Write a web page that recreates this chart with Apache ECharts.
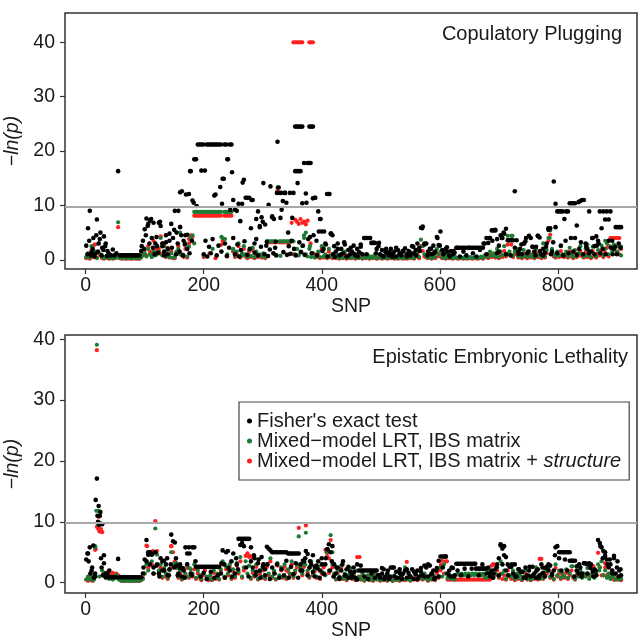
<!DOCTYPE html>
<html>
<head>
<meta charset="utf-8">
<script src="https://cdn.jsdelivr.net/npm/echarts@6/dist/echarts.min.js"></script>
<style>html,body{margin:0;padding:0;background:#fff}#c{width:640px;height:640px}</style>
</head>
<body>
<div id="c"></div>
<script>
// SNP index of the first value in each array and spacing between values
const snpStart = 1;
const snpStep = 3;
const threshold = 9.8;            // -ln(0.05/900), Bonferroni line
const xTicks = [0, 200, 400, 600, 800];
const yTicks = [0, 10, 20, 30, 40];
const panelTitles = ['Copulatory Plugging', 'Epistatic Embryonic Lethality'];
const seriesNames = ["Fisher's exact test", 'Mixed\u2212model LRT, IBS matrix', 'Mixed\u2212model LRT, IBS matrix + structure'];

// ---------- Copulatory Plugging ----------
const topFisher = [
 2.6,5.8,9.0,1.4,4.0,1.1,7.4,3.0,5.0,2.2,
 4.3,3.0,1.6,0.8,0.8,1.9,0.8,1.2,16.3,0.8,
 0.8,0.8,0.8,0.8,0.8,0.8,0.8,0.8,0.8,0.8,
 0.8,1.6,3.5,5.6,7.6,6.6,7.2,4.0,6.8,3.0,
 2.5,6.8,6.2,3.0,1.5,4.5,2.0,3.5,6.6,4.0,
 9.0,5.0,9.0,6.0,12.6,3.5,4.5,2.0,12.1,16.3,
 10.9,18.5,18.5,21.2,21.2,21.2,21.2,16.4,21.2,21.2,
 21.2,21.2,21.2,21.2,21.2,21.2,21.2,14.9,21.2,21.2,
 18.5,21.2,21.2,11.0,9.2,9.0,10.3,7.1,10.3,14.7,
 11.4,11.4,11.4,5.8,11.0,3.0,7.5,8.9,6.2,7.8,
 14.1,6.5,3.3,10.1,13.5,7.8,7.5,3.3,21.7,12.3,
 12.3,10.8,12.3,10.5,5.0,12.3,3.5,12.3,24.5,24.5,
 24.5,24.5,24.5,17.8,12.2,17.8,24.5,24.5,24.5,11.4,
 3.5,8.9,7.5,5.2,2.0,3.0,12.1,12.1,4.8,4.5,
 2.5,1.5,3.0,0.8,2.0,1.2,2.8,0.6,1.8,1.0,
 1.5,2.6,0.8,2.0,1.4,2.8,1.0,4.0,4.0,4.0,
 4.0,3.1,3.1,3.1,2.0,2.5,1.0,1.8,0.6,1.4,
 1.2,0.8,2.0,1.0,1.5,0.6,1.8,1.2,0.8,1.5,
 2.1,1.0,1.6,0.8,2.5,1.2,1.8,3.0,2.2,5.9,
 6.1,2.8,3.0,1.5,2.0,1.0,2.6,1.5,4.2,2.7,
 5.2,1.8,1.2,2.0,1.5,0.8,1.6,1.0,1.3,2.2,
 2.2,2.2,2.2,2.2,2.2,2.2,2.2,2.2,2.2,2.2,
 2.2,2.2,2.2,2.2,2.2,3.0,4.0,3.1,4.0,5.4,
 5.4,5.4,3.8,1.5,4.5,4.0,4.8,5.7,3.6,3.6,
 3.6,3.6,12.6,3.6,1.5,2.0,1.0,3.0,3.4,1.2,
 4.4,4.0,2.4,1.5,2.4,4.4,4.1,1.0,2.0,1.3,
 3.0,5.5,5.8,1.5,14.4,6.0,8.9,8.9,8.9,8.9,
 7.5,8.9,8.9,10.4,10.4,10.4,10.4,6.3,10.6,10.8,
 11.0,11.0,3.0,2.0,8.9,1.5,4.0,2.5,4.3,3.5,
 8.9,5.8,8.9,7.4,8.9,7.4,8.9,3.5,2.0,6.0,
 6.0,6.0,6.0
];
const topIBS = [
 0.5,1.2,0.4,2.5,0.8,1.5,0.3,3.0,1.0,0.6,
 0.3,0.6,0.4,0.3,0.5,0.3,0.4,0.6,6.9,0.4,
 0.3,0.4,0.3,0.5,0.3,0.4,0.3,0.5,0.3,0.4,
 0.3,0.5,0.8,1.2,0.6,2.0,1.0,0.5,1.5,0.8,
 1.0,1.5,4.0,0.8,2.5,0.6,1.8,0.5,1.2,0.4,
 0.5,1.5,2.0,5.0,1.0,0.8,3.0,0.6,2.4,4.0,
 4.5,8.8,8.8,8.8,8.8,8.8,8.8,8.8,8.8,8.8,
 8.8,8.8,8.8,8.8,8.8,8.8,8.8,4.0,8.8,8.8,
 8.8,8.8,8.8,2.0,0.8,1.5,3.0,0.6,1.2,2.5,
 1.0,0.5,1.8,0.7,2.2,0.5,1.5,0.8,1.0,0.6,
 1.2,0.5,3.4,3.4,3.4,3.4,3.4,3.4,13.3,3.4,
 3.4,3.4,3.4,3.4,3.4,3.4,3.4,3.4,1.0,2.0,
 0.8,1.5,2.5,4.5,1.0,0.6,2.0,0.5,1.2,0.4,
 0.8,1.5,0.5,2.5,0.6,1.0,0.4,2.0,0.8,0.5,
 1.2,0.5,0.8,0.3,1.0,0.4,1.5,0.3,0.6,0.4,
 0.5,1.0,0.3,0.8,0.4,1.2,0.3,0.6,0.4,0.8,
 0.3,0.6,0.4,1.0,0.3,0.5,0.8,0.3,0.4,0.6,
 0.3,0.5,0.4,0.8,0.3,0.6,0.3,0.5,0.4,0.3,
 0.6,0.3,0.5,0.4,1.0,0.3,0.8,1.5,0.5,3.7,
 2.5,1.0,0.6,0.4,1.2,0.3,0.8,0.5,2.0,1.0,
 1.5,0.4,0.6,0.3,0.8,0.4,0.5,0.3,0.6,0.4,
 0.3,0.5,0.4,0.3,0.6,0.3,0.4,0.5,0.3,0.4,
 0.5,0.3,0.4,0.6,0.3,0.8,1.0,0.5,1.5,0.8,
 1.2,0.6,2.0,0.5,1.5,0.8,2.5,1.0,4.4,1.5,
 4.4,0.8,1.5,2.0,0.6,1.2,0.5,1.8,0.8,0.5,
 1.5,0.6,1.0,0.4,2.0,0.8,1.2,0.5,3.0,0.6,
 1.8,4.0,5.4,2.0,1.0,0.6,1.5,0.8,2.5,1.0,
 0.8,1.5,0.6,2.2,1.0,0.5,1.8,0.7,1.2,2.5,
 1.0,0.6,2.0,0.8,1.5,0.5,2.4,1.0,0.6,1.8,
 1.2,2.6,0.8,2.0,3.0,1.0,2.4,1.5,2.8,2.4,
 1.5,2.4,0.8
];
const topIBSStructure = [
 0.3,0.8,0.2,1.8,0.5,2.8,0.4,1.2,0.8,0.3,
 0.2,0.5,0.3,0.2,0.3,0.2,0.3,0.4,6.0,0.3,
 0.2,0.3,0.2,0.2,0.3,0.2,0.2,0.3,0.2,0.2,
 0.2,0.4,1.0,1.8,0.8,2.5,1.5,0.6,3.5,1.0,
 1.5,2.0,4.3,1.0,3.0,0.5,2.2,0.4,1.5,0.3,
 0.3,1.0,2.5,6.1,0.8,0.5,2.0,0.4,3.0,4.5,
 4.2,8.1,8.1,8.1,8.1,8.1,8.1,8.1,8.1,8.1,
 8.1,8.1,8.1,8.1,8.1,8.1,8.1,3.5,8.1,8.1,
 8.1,8.1,8.1,1.5,0.5,1.0,2.5,0.4,0.8,2.0,
 0.6,0.3,1.5,0.5,1.8,0.3,1.0,0.5,0.8,0.4,
 0.8,0.3,3.2,3.2,3.2,3.2,3.2,3.2,12.7,3.2,
 3.2,3.2,3.2,3.2,3.2,3.2,6.8,40,40,40,
 40,40,40,7.0,6.5,7.2,40,40,40,1.0,
 0.5,1.2,0.3,2.0,0.4,0.8,0.3,1.5,0.5,0.3,
 0.8,0.3,0.5,0.2,0.6,0.3,1.0,0.2,0.4,0.3,
 0.3,0.6,0.2,0.5,0.3,0.8,0.2,0.4,0.3,0.5,
 0.2,0.4,0.3,0.6,0.2,0.3,0.5,0.2,0.3,0.4,
 0.2,0.3,0.3,0.5,0.2,0.4,0.2,0.3,0.3,0.2,
 0.4,0.2,0.3,0.3,0.6,0.2,0.5,1.0,0.3,2.5,
 1.6,0.6,0.4,0.3,0.8,0.2,0.5,0.3,1.2,0.6,
 1.0,0.3,0.4,0.2,0.5,0.3,0.3,0.2,0.4,0.3,
 0.2,0.3,0.3,0.2,0.4,0.2,0.3,0.3,0.2,0.3,
 0.3,0.2,0.3,0.4,0.2,0.5,0.6,0.3,1.0,0.5,
 0.8,0.4,1.3,0.3,1.0,0.5,1.6,0.6,2.8,1.0,
 2.8,0.5,1.0,1.3,0.4,0.8,0.3,1.2,0.5,0.3,
 1.0,0.4,0.6,0.3,1.3,0.5,0.8,0.3,2.0,0.4,
 1.2,3.5,4.6,1.3,0.6,0.4,1.0,0.5,1.6,0.6,
 0.5,1.0,0.4,1.5,0.6,0.3,1.2,0.5,0.8,1.6,
 0.6,0.4,1.3,0.5,1.0,0.3,1.6,0.6,0.4,1.2,
 0.8,1.8,0.5,1.3,2.2,0.6,4.0,4.0,4.0,4.0,
 4.0,4.0,2.0
];
// additional SNPs [snp, -ln(p)]
const topFisherExtra = [[3,1.0],[6,3.5],[9,0.8],[12,2.0],[15,0.6],[18,4.5],[21,1.5],[24,3.8],[27,0.8],[30,1.8],[33,2.5],[36,0.7],[39,1.2],[95,2.5],[99,2.0],[102,4.5],[105,6.2],[108,3.0],[111,7.5],[114,2.2],[117,1.0],[120,4.2],[123,1.3],[126,7.0],[130,2.5],[133,0.8],[136,3.2],[139,1.0],[142,4.8],[146,2.2],[150,5.5],[153,1.0],[156,3.0],[159,1.5],[162,4.5],[165,0.8],[168,2.8],[172,4.6],[176,1.2],[180,3.5],
 [177,16.3],[160,12.4],[170,12.0],[183,10.5],[188,9.9],[186,18.5],[196,16.4],[200,1.0],[203,3.5],[206,0.6],[209,2.4],[212,1.2],[215,3.8],[218,11.8],[220,12.0],[222,0.8],[225,2.6],[228,13.4],[230,1.5],[231,10.3],[234,14.9],[236,3.0],[239,0.7],[240,18.5],[243,2.2],[245,9.2],[248,16.1],[250,4.0],[253,1.0],[257,2.8],[260,0.6],[263,1.8],[266,14.2],[269,3.4],[274,0.9],[278,2.0],[281,11.0],[286,1.3],[289,3.8],[292,0.8],[295,6.0],[297,2.4],[300,7.0],[303,1.0],[306,2.6],[309,0.7],[312,1.9],[316,8.0],[318,1.2],[321,2.2],[323,0.8],[324,12.3],[327,13.3],[330,7.7],[332,9.2],[335,1.4],[338,12.3],[341,0.9],[344,2.5],[347,1.1],[350,7.7],[353,2.0],[355,16.3],[356,0.8],[358,16.3],[359,14.1],[361,16.3],[362,3.2],[364,16.3],[365,1.4],[367,10.4],[368,2.6],[371,0.9],[374,10.5],[377,3.8],[378,17.8],[380,4.2],[381,17.8],[383,1.2],[385,11.3],[386,4.5],[389,11.4],[392,0.8],[395,5.2],[398,7.5],[401,1.6],[404,5.2],[407,2.8],[410,0.6],[413,12.1],[416,4.8],[419,1.0],
 [422,0.5],[427,2.0],[433,1.0],[438,3.2],[444,0.7],[449,2.2],[455,1.1],[461,0.6],[466,2.4],[472,4.0],[476,1.0],[482,4.0],[487,3.1],[492,1.2],[497,3.1],[503,0.7],[509,2.0],[515,1.4],[520,0.5],[526,2.2],[532,1.0],[537,1.6],[544,0.6],[549,1.4],[555,2.4],[560,0.8],[566,1.6],[570,5.8],[574,3.0],[579,0.8],[585,2.0],[590,1.2],[596,4.0],[600,2.6],[606,1.0],[612,2.3],[617,0.6],[623,1.6],[629,2.2],[634,0.6],[640,1.5],[645,0.8],[650,2.2],[656,1.2],[662,0.6],[668,1.8],[674,3.0],[679,1.0],[684,4.0],[689,3.5],[694,5.5],[697,1.2],[700,2.6],[705,4.0],[708,5.0],[712,1.0],[716,3.6],[720,0.8],[727,2.2],[733,1.0],[738,2.8],[743,3.0],[746,4.0],[750,1.5],[757,2.4],[762,0.8],[766,4.4],[770,1.6],[775,0.8],[780,2.4],[784,5.8],[788,1.0],[792,3.2],[796,10.3],[799,1.2],[805,2.6],[809,0.8],[813,3.5],[818,1.2],[822,4.0],[826,1.5],[829,4.0],[832,0.9],[836,2.0],[839,3.2],[843,1.0],[848,2.4],[853,1.2],[858,4.0],[862,1.0],[866,2.6],[869,3.0],[872,1.2],[876,2.0],[881,1.0],[886,3.5],[890,2.2],[893,1.0],[897,2.4],[900,1.0],[903,3.0],[906,2.2]];
const topIBSExtra = [[56,0.4],[160,1.0],[184,3.0],[200,0.8],[215,2.0],[230,4.2],[236,3.8],[240,1.0],[250,1.8],[265,0.8],[320,1.0],[330,0.7],[345,1.0],[370,4.0],[373,5.0],[380,2.5],[786,4.0],[723,4.4],[715,1.0],[850,2.8],[880,3.5],[895,2.0],[907,2.4]];
const topIBSStructureExtra = [[15,2.8],[112,1.0],[120,2.0],[128,1.0],[130,3.0],[159,1.5],[175,3.8],[179,4.0],[200,0.5],[210,1.2],[220,0.3],[230,2.8],[240,0.6],[250,1.5],[352,1.0],[355,7.4],[358,7.0],[361,6.6],[364,7.5],[367,6.8],[381,3.0],[385,1.2],[886,2.5],[893,2.0],[900,1.5],[904,1.0]];

// ---------- Epistatic Embryonic Lethality ----------
const botFisher = [
 3.8,4.8,5.8,2.0,6.1,1.0,17.1,12.6,11.6,9.6,
 4.5,1.5,0.9,0.9,0.9,0.9,0.9,0.9,3.9,0.9,
 0.9,0.9,0.9,0.9,0.9,0.9,0.9,0.9,0.9,0.9,
 0.9,0.9,1.5,3.8,7.0,4.6,5.0,4.8,2.5,5.0,
 3.0,1.5,4.0,2.0,3.6,3.0,1.2,2.2,7.9,6.8,
 6.6,2.8,1.5,2.4,1.0,2.0,5.8,4.8,5.8,1.5,
 5.8,5.8,2.6,2.6,2.6,2.6,2.6,2.6,2.6,2.6,
 2.6,2.6,2.6,2.6,2.6,2.6,1.5,5.3,3.0,5.0,
 5.2,2.0,3.5,4.8,1.5,3.0,7.2,7.2,7.2,7.2,
 7.2,7.2,7.2,5.8,2.5,4.0,1.8,3.2,2.0,4.2,
 3.0,2.2,5.9,5.6,5.3,5.0,5.0,5.0,5.0,5.0,
 5.0,5.0,5.0,5.0,4.8,4.8,4.8,4.8,4.8,4.8,
 4.8,3.0,2.0,3.5,5.2,4.7,2.5,3.0,1.8,2.6,
 2.8,3.5,2.0,4.0,1.5,3.0,5.5,6.3,5.0,6.0,
 3.0,1.5,2.5,0.8,2.0,3.5,1.2,2.2,0.8,1.8,
 1.2,2.5,0.8,3.0,2.0,2.0,2.0,2.0,2.0,2.0,
 2.0,2.0,2.0,2.0,2.0,1.2,0.8,1.5,2.2,1.0,
 1.5,0.6,2.5,2.5,1.0,1.8,0.8,2.2,1.2,1.5,
 2.0,0.8,1.6,1.0,2.2,0.6,1.4,2.0,1.0,1.8,
 1.2,2.8,2.5,1.0,2.8,1.5,2.0,0.8,2.4,3.6,
 4.3,4.3,4.3,4.3,1.5,2.0,1.0,2.4,1.2,3.1,
 3.1,3.1,3.1,3.1,3.1,3.1,3.1,3.1,3.1,3.1,
 2.3,2.3,2.3,2.3,2.3,2.3,1.5,2.5,1.0,2.0,
 1.5,2.2,3.0,1.2,6.1,5.6,6.0,4.2,3.0,2.6,
 2.6,1.5,3.0,1.0,2.2,1.8,1.8,0.8,2.5,1.2,
 2.0,1.0,2.6,1.5,0.8,2.2,1.2,3.0,1.6,2.4,
 2.6,3.0,2.8,1.5,2.0,5.8,6.0,5.0,5.0,5.0,
 5.0,5.0,5.0,3.6,3.6,3.6,3.6,2.7,1.5,2.5,
 1.5,3.2,3.2,3.0,3.2,3.0,1.8,2.2,1.2,7.0,
 6.5,5.8,5.2,4.4,3.8,2.5,3.0,2.0,4.4,1.5,
 3.5,2.0,1.2
];
const botIBS = [
 0.5,1.0,0.6,0.4,0.8,5.8,39.1,11.8,9.8,2.0,
 1.5,0.8,1.2,0.6,1.0,0.5,0.8,1.3,0.6,0.4,
 0.3,0.4,0.3,0.5,0.3,0.4,0.3,0.5,0.3,0.4,
 0.3,0.5,0.6,1.5,3.0,2.0,4.8,3.5,1.5,8.9,
 4.6,2.0,3.0,1.0,2.4,1.5,0.8,2.0,5.0,3.0,
 2.8,3.2,1.0,2.0,0.6,2.4,1.5,3.0,1.0,2.2,
 1.5,3.0,0.8,2.0,1.2,0.6,1.5,2.5,1.0,0.6,
 1.2,0.5,2.0,0.8,1.5,0.6,2.2,3.5,1.0,2.6,
 1.5,3.0,0.8,2.2,1.0,3.2,1.8,4.2,1.0,2.5,
 3.5,1.5,2.8,0.8,2.0,1.2,3.0,0.6,1.8,1.0,
 2.4,0.8,3.0,1.5,4.0,1.0,2.0,0.6,3.2,1.2,
 2.5,1.0,3.0,0.8,2.2,1.5,3.5,1.0,2.0,3.0,
 7.6,2.5,1.5,3.0,8.2,2.0,1.0,3.5,1.5,2.2,
 1.0,2.6,0.8,1.8,3.0,1.2,5.0,2.0,7.8,3.0,
 1.5,0.6,2.0,1.0,2.8,0.8,1.5,0.5,1.2,2.4,
 0.8,1.5,0.5,2.0,1.0,0.6,1.5,0.4,0.8,1.2,
 0.5,1.0,0.4,1.5,0.6,0.8,0.4,1.2,0.5,0.8,
 0.4,1.0,0.6,0.3,1.2,0.5,0.8,0.4,1.0,0.6,
 2.5,0.5,1.0,0.4,0.8,0.6,1.5,0.5,0.8,1.2,
 0.6,1.5,0.8,0.4,1.0,0.6,1.2,0.5,2.0,1.0,
 2.5,1.0,3.0,1.5,0.8,1.2,0.6,1.0,0.5,1.3,
 1.5,1.2,1.5,1.2,1.5,1.2,1.5,1.2,1.5,1.2,
 1.5,1.2,1.5,1.2,1.5,1.0,0.8,2.0,1.5,1.0,
 0.8,1.5,2.5,1.0,3.5,1.5,2.0,0.6,1.2,2.8,
 1.0,2.0,0.6,1.5,0.8,1.2,0.5,1.0,2.0,0.6,
 1.2,0.5,1.0,0.8,2.5,1.0,0.6,1.5,0.8,1.2,
 2.0,2.5,1.0,1.5,0.6,3.0,1.2,2.0,0.8,1.5,
 1.0,2.2,0.8,1.5,2.7,1.0,0.6,1.8,1.0,2.0,
 0.8,1.5,1.0,2.4,0.6,1.2,2.0,0.8,1.5,3.0,
 2.5,3.5,1.2,2.0,0.8,1.5,0.6,1.0,1.2,0.5,
 0.8,0.5,0.6
];
const botIBSStructure = [
 0.5,0.3,0.8,0.4,1.0,5.4,38.2,10.8,8.6,8.3,
 1.6,1.3,1.7,1.4,1.2,1.6,1.3,1.5,1.2,0.5,
 0.3,0.3,0.3,0.3,0.3,0.3,0.3,0.3,0.3,0.3,
 0.3,0.4,0.8,1.5,6.1,2.5,4.8,3.0,1.5,10.1,
 5.2,1.5,2.5,0.8,2.0,1.0,0.6,2.2,6.0,2.5,
 3.5,2.5,0.8,1.5,0.5,2.0,1.2,2.4,0.8,1.5,
 1.0,2.2,0.6,1.5,0.8,0.4,1.2,2.0,0.7,0.4,
 1.0,0.4,1.6,0.6,1.2,0.5,2.0,3.0,0.8,2.2,
 1.2,2.6,0.6,1.8,0.8,2.8,1.5,3.5,0.8,2.0,
 4.4,4.8,4.2,0.6,1.6,1.0,2.6,0.5,1.4,0.8,
 2.0,0.6,2.6,1.2,3.5,0.8,1.6,0.5,2.8,1.0,
 2.0,0.8,2.6,0.6,1.8,1.2,3.0,0.8,1.6,2.5,
 9.0,2.0,1.2,2.6,9.4,1.6,0.8,3.0,1.2,1.8,
 0.8,2.2,0.6,1.5,2.5,5.4,4.4,1.6,7.0,2.5,
 1.2,0.5,1.6,0.8,2.4,0.6,1.2,0.4,1.0,2.0,
 0.6,1.2,0.4,4.2,0.8,0.5,1.2,0.3,0.6,1.0,
 0.4,0.8,0.3,1.2,0.5,0.6,0.3,1.0,0.4,0.6,
 0.3,0.8,0.5,0.3,1.0,0.4,0.6,0.3,0.8,0.5,
 0.4,3.4,0.8,0.3,0.6,0.5,1.2,0.4,0.6,1.0,
 0.5,1.2,0.6,0.3,0.8,0.5,1.0,0.4,1.6,0.8,
 2.0,3.6,1.5,3.5,0.5,0.5,0.5,0.5,0.5,0.5,
 0.5,0.5,0.5,0.5,0.5,0.5,0.5,0.5,0.5,0.5,
 0.5,0.5,0.5,0.5,0.5,0.5,0.5,0.5,0.5,2.8,
 3.0,1.2,2.0,0.8,1.5,0.6,1.2,0.5,2.0,1.0,
 0.6,1.5,0.4,1.0,0.6,1.2,0.4,0.8,1.5,0.5,
 1.0,0.4,0.8,0.6,1.8,0.5,3.9,1.2,0.6,1.0,
 1.5,2.2,0.8,1.2,0.5,2.4,1.0,1.5,0.6,1.2,
 0.8,1.6,0.6,1.2,2.0,0.8,0.5,1.2,1.2,1.2,
 1.2,1.2,1.2,1.2,1.2,1.2,2.7,1.2,1.2,4.9,
 2.5,1.2,1.2,3.2,1.2,1.5,0.8,2.0,0.5,0.6,
 0.5,0.6,0.4
];
const botFisherExtra = [[3,4.8],[5,3.5],[8,1.5],[11,2.5],[14,0.8],[16,1.5],[17,13.6],[20,11.0],[21,10.0],[23,9.5],[24,11.0],[26,4.0],[27,2.5],[29,1.2],[31,3.2],[34,0.9],[37,1.5],[40,2.0],[98,2.5],[103,3.5],[106,5.0],[109,3.0],[112,4.6],[115,1.5],[120,2.8],[125,1.0],[130,3.5],[133,2.0],[138,4.0],[141,1.2],[144,3.0],[150,2.5],[153,4.0],[156,1.2],[160,3.0],[164,2.4],[168,0.8],[172,3.0],[176,4.8],[180,1.2],[186,3.5],[195,1.0],[200,1.6],[205,0.6],[212,1.8],[218,0.8],[224,1.2],[230,3.2],[236,0.8],[242,2.4],[248,1.0],[255,4.0],[258,2.2],[262,6.2],[265,6.5],[268,6.0],[272,2.5],[276,1.0],[280,3.5],[285,4.5],[288,1.2],[293,3.8],[296,0.8],[300,2.6],[304,1.2],[308,3.0],[312,0.6],[316,2.5],[320,1.5],[324,3.0],[328,0.8],[332,2.2],[336,1.2],[340,3.6],[344,0.8],[348,2.6],[352,1.4],[356,3.2],[360,0.8],[364,2.0],[368,3.6],[372,4.0],[376,1.2],[380,3.5],[385,4.5],[388,1.0],[392,2.4],[396,0.8],[400,3.0],[404,1.4],[407,4.0],[410,5.5],[414,2.0],[417,3.5],[420,1.0],[425,2.5],[430,0.6],[435,3.0],[440,1.2],[445,2.6],[450,0.8],[455,1.8],[460,0.5],[466,2.8],[472,1.0],[478,0.6],[484,1.5],[490,0.8],[496,1.2],[502,2.4],[506,0.6],[512,2.0],[516,1.0],[522,2.5],[526,0.8],[532,1.6],[536,0.6],[544,2.2],[550,1.0],[556,1.8],[562,0.6],[568,2.4],[574,1.0],[580,3.0],[586,1.4],[590,0.6],[594,2.0],[598,1.0],[605,2.5],[610,4.3],[616,1.2],[620,2.5],[624,1.0],[630,2.0],[636,1.2],[642,2.3],[648,1.0],[654,2.3],[660,3.1],[666,1.2],[672,3.0],[678,2.3],[684,1.5],[690,0.8],[696,2.5],[700,4.0],[703,6.3],[706,3.0],[709,4.5],[712,2.0],[716,1.2],[722,3.0],[728,1.0],[734,2.2],[740,1.8],[746,0.8],[752,2.6],[758,1.2],[764,2.0],[768,0.8],[774,2.5],[778,1.0],[784,2.0],[790,1.2],[795,4.5],[802,4.0],[806,2.0],[812,3.8],[816,2.0],[820,5.0],[824,3.6],[828,1.0],[832,2.0],[836,3.0],[840,1.0],[845,3.2],[850,1.5],[855,2.4],[860,1.0],[864,2.0],[872,6.0],[876,4.0],[880,5.0],[884,3.0],[888,3.8],[892,1.5],[895,4.0],[900,2.5],[903,1.0],[906,2.2]];
const botIBSExtra = [[10,1.2],[14,0.5],[16,6.0],[18,11.8],[21,9.5],[23,1.0],[104,3.0],[117,5.0],[125,2.0],[150,3.0],[155,2.4],[176,2.4],[365,2.0],[372,3.0],[380,2.5],[418,5.0],[825,2.7],[870,2.0],[885,1.0]];
const botIBSStructureExtra = [[5,1.0],[8,0.4],[12,0.3],[15,0.8],[17,5.5],[19,9.2],[21,8.9],[23,8.5],[24,8.4],[26,8.8],[104,6.0],[110,5.0],[114,5.2],[117,4.8],[145,6.0],[148,5.0],[152,3.0],[274,4.6],[278,4.4],[282,4.2],[340,2.0],[370,3.0],[408,5.0],[412,4.0],[464,4.2],[602,3.0],[612,3.5],[690,3.0],[772,3.9],[860,2.7],[880,2.5],[895,0.5]];

const FONT = '"Liberation Sans", Arial, Helvetica, sans-serif';
const colBlack = '#000000', colGreen = '#1c7a34', colRed = '#ff1f1f';

function pts(vals, extra) {
  return vals.map((v, i) => [snpStart + snpStep * i, v]).concat(extra);
}

const grids = [
  { left: 65, right: 3, top: 13, height: 256 },
  { left: 65, right: 3, top: 335, height: 258 }
];
const yRanges = [[-1.7, 45.4], [-1.7, 40.7]];

const chart = echarts.init(document.getElementById('c'), null, { renderer: 'canvas', width: 640, height: 640 });

const xAxes = grids.map((g, i) => ({
  type: 'value', gridIndex: i, min: -35, max: 934, position: 'bottom',
  splitLine: { show: false }, axisLine: { show: false, onZero: false },
  axisTick: { show: true, inside: false, length: 5, customValues: xTicks, lineStyle: { color: '#333', width: 1.2 } },
  axisLabel: { customValues: xTicks, margin: 7, fontSize: 19.5, fontFamily: FONT, color: '#1a1a1a' },
  name: 'SNP', nameLocation: 'middle', nameGap: 25,
  nameTextStyle: { fontSize: 19.5, fontFamily: FONT, color: '#1a1a1a', verticalAlign: 'top' }
}));
const yAxes = grids.map((g, i) => ({
  type: 'value', gridIndex: i, min: yRanges[i][0], max: yRanges[i][1], position: 'left',
  splitLine: { show: false }, axisLine: { show: false, onZero: false },
  axisTick: { show: true, inside: false, length: 5, customValues: yTicks, lineStyle: { color: '#333', width: 1.2 } },
  axisLabel: { customValues: yTicks, margin: 10, fontSize: 19.5, fontFamily: FONT, color: '#1a1a1a' },
  name: '\u2212ln(p)', nameLocation: 'middle', nameRotate: 90, nameGap: 39,
  nameTextStyle: { fontSize: 19.5, fontFamily: FONT, color: '#1a1a1a', fontStyle: 'italic' }
}));

function scatter(name, data, idx, color, size, withLine) {
  const s = {
    type: 'scatter', name: name, data: data, xAxisIndex: idx, yAxisIndex: idx,
    symbol: 'circle', symbolSize: size, itemStyle: { color: color, opacity: 1 },
    silent: true, animation: false, clip: true
  };
  if (withLine) {
    s.markLine = {
      silent: true, symbol: ['none', 'none'], label: { show: false },
      lineStyle: { color: '#a8a8a8', width: 1.8, type: 'solid' },
      data: [{ yAxis: threshold }], animation: false
    };
  }
  return s;
}

const series = [
  scatter(seriesNames[2], pts(topIBSStructure, topIBSStructureExtra), 0, colRed, 4.2, true),
  scatter(seriesNames[1], pts(topIBS, topIBSExtra), 0, colGreen, 4.2, false),
  scatter(seriesNames[0], pts(topFisher, topFisherExtra), 0, colBlack, 4.6, false),
  scatter(seriesNames[2], pts(botIBSStructure, botIBSStructureExtra), 1, colRed, 4.2, true),
  scatter(seriesNames[1], pts(botIBS, botIBSExtra), 1, colGreen, 4.2, false),
  scatter(seriesNames[0], pts(botFisher, botFisherExtra), 1, colBlack, 4.6, false)
];

chart.setOption({
  backgroundColor: '#ffffff',
  animation: false,
  grid: grids.map(g => Object.assign({ show: true, borderColor: '#333', borderWidth: 1.5, backgroundColor: 'transparent', containLabel: false, outerBoundsMode: 'none' }, g)),
  title: [
    { text: panelTitles[0], right: 18, top: 24, padding: 0, textStyle: { fontSize: 20, fontWeight: 'normal', fontFamily: FONT, color: '#1a1a1a' } },
    { text: panelTitles[1], right: 12, top: 347, padding: 0, textStyle: { fontSize: 20, fontWeight: 'normal', fontFamily: FONT, color: '#1a1a1a' } }
  ],
  legend: {
    data: seriesNames, orient: 'vertical', left: 239, top: 402,
    padding: [9, 8, 9, 8], itemGap: 0, itemWidth: 5, itemHeight: 5, icon: 'circle',
    backgroundColor: '#fff', borderColor: '#444', borderWidth: 1.2, borderRadius: 0,
    selectedMode: false,
    formatter: function (n) { return n === seriesNames[2] ? '{n|Mixed\u2212model LRT, IBS matrix + }{i|structure}' : n; },
    textStyle: {
      fontSize: 20, fontFamily: FONT, color: '#1a1a1a', lineHeight: 19,
      rich: {
        n: { fontSize: 20, fontFamily: FONT, color: '#1a1a1a', lineHeight: 19 },
        i: { fontSize: 20, fontFamily: FONT, color: '#1a1a1a', lineHeight: 19, fontStyle: 'italic' }
      }
    }
  },
  xAxis: xAxes,
  yAxis: yAxes,
  series: series
});
</script>
</body>
</html>
